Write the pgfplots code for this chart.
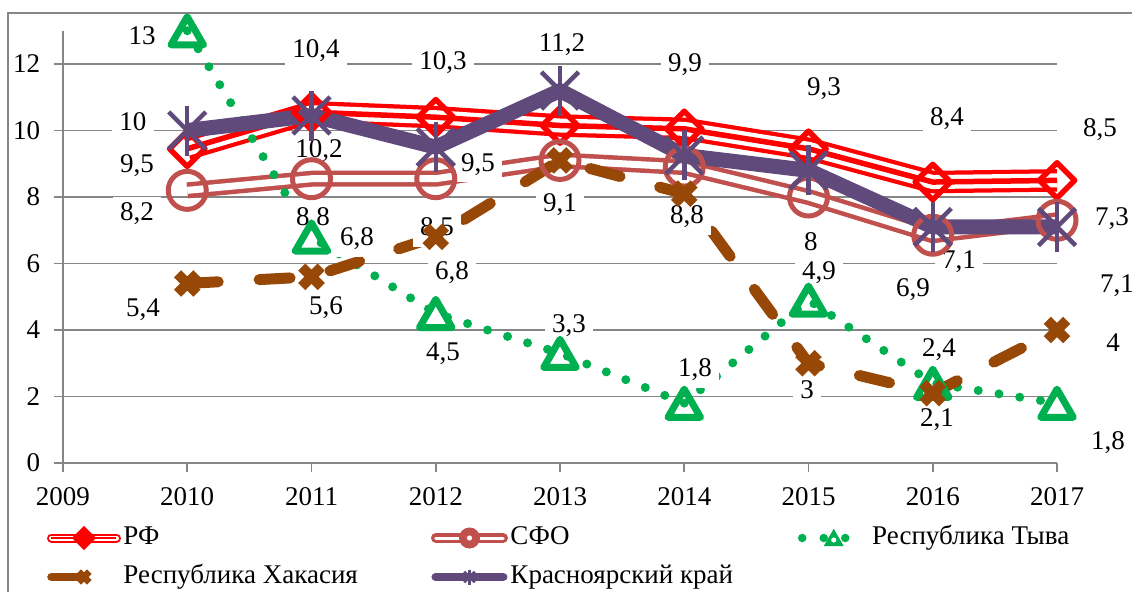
\documentclass[border=0pt]{standalone}
\usepackage{fontspec}
\setmainfont{Liberation Serif}
\usepackage{pgfplots}
\pgfplotsset{compat=1.18}
\usepackage{pgfplotstable}
\definecolor{rfred}{RGB}{255,0,0}
\definecolor{sfo}{RGB}{192,80,77}
\definecolor{tyva}{RGB}{0,176,80}
\definecolor{khak}{RGB}{151,71,6}
\definecolor{krsk}{RGB}{96,74,123}
\definecolor{gridc}{RGB}{134,134,134}
\newcommand{\chfont}{\rmfamily\fontsize{10.8pt}{13pt}\selectfont}

\pgfplotstableread{
year rf sfo tyva khak krsk
2010 9.45 8.2 13.0 5.4 10.0
2011 10.55 8.55 6.8 5.6 10.45
2012 10.4 8.55 4.5 6.8 9.5
2013 10.15 9.1 3.3 9.1 11.2
2014 10.05 8.9 1.8 8.1 9.25
2015 9.45 8.0 4.9 3.0 8.8
2016 8.45 6.85 2.4 2.1 7.1
2017 8.5 7.3 1.8 4.0 7.1
}\data

\begin{document}
\begin{tikzpicture}[font=\chfont,
  lbl/.style={fill=white, font=\chfont, inner xsep=3pt, inner ysep=2.5pt, text height=7.2pt, text depth=1.8pt, yshift=-0.9pt}]
\useasboundingbox (-25.2pt,-51.2pt) rectangle (427.6pt,185.2pt);
\draw[gridc, line width=0.5pt] (-22pt,-60pt) -- (-22pt,180pt) -- (440pt,180pt);
\begin{axis}[
  scale only axis, width=397.6pt, height=172.9pt,
  xmin=2009, xmax=2017, ymin=0, ymax=13,
  axis x line*=bottom, axis y line*=left,
  axis line style={gridc, line width=0.75pt},
  xtick={2009,2010,2011,2012,2013,2014,2015,2016,2017},
  xticklabels={2009,2010,2011,2012,2013,2014,2015,2016,2017},
  ytick={0,2,4,6,8,10,12},
  yticklabels={0,2,4,6,8,10,12},
  ymajorgrids, grid style={gridc, line width=0.75pt},
  tick align=outside, major tick length=3.5pt,
  tick style={gridc, line width=0.75pt},
  tick label style={font=\chfont},
  xticklabel style={yshift=-2.9pt},
  yticklabel style={xshift=-2.1pt},
  clip=false,
  legend columns=3,
  legend cell align=left,
  legend style={at={(axis description cs:0,0)}, anchor=north west,
    xshift=-6.4pt, yshift=-24.1pt, draw=none, fill=none, font=\chfont,
    inner sep=0pt, outer sep=0pt, row sep=3.8pt, /tikz/column sep=0pt,
    nodes={inner sep=1pt, text height=7.5pt, text depth=2.3pt, anchor=west, font=\chfont}},
]
% RF
\addplot[forget plot, rfred, line width=9pt, line join=round] table[x=year,y=rf]{\data};
\addplot[forget plot, white, line width=5.6pt, line join=round] table[x=year,y=rf]{\data};
\addplot[forget plot, rfred, line width=2.2pt, line join=round] table[x=year,y=rf]{\data};
\addplot[forget plot, only marks, mark=square, mark size=5pt,
  mark options={draw=rfred, fill=none, line width=2.2pt, rotate=45, line join=round}] table[x=year,y=rf]{\data};
% SFO
\addplot[forget plot, sfo, line width=1.8pt, double=white, double distance=2.8pt, line join=round] table[x=year,y=sfo]{\data};
\addplot[forget plot, only marks, mark=o, mark size=7.6pt,
  mark options={draw=sfo, fill=none, line width=2pt}] table[x=year,y=sfo]{\data};
% Tyva
\addplot[forget plot, tyva, line width=3.6pt, line cap=round, dash pattern=on 0pt off 8.4pt] table[x=year,y=tyva]{\data};
\addplot[forget plot, only marks, mark=triangle, mark size=7.5pt,
  mark options={draw=tyva, fill=none, line width=2.8pt, line join=round, yshift=-1.9pt, solid}] table[x=year,y=tyva]{\data};
% Khakasia
\addplot[forget plot, khak, line width=4.4pt, line cap=round, dash pattern=on 12.4pt off 16.4pt] table[x=year,y=khak]{\data};
\addplot[forget plot, only marks, mark=x, mark size=5.5pt,
  mark options={draw=khak, line width=4pt, solid}] table[x=year,y=khak]{\data};
% Krasnoyarsk
\addplot[forget plot, krsk, line width=6pt, line join=round] table[x=year,y=krsk]{\data};
\addplot[forget plot, only marks, mark=x, mark size=10.5pt,
  mark options={draw=krsk, line width=1.8pt}] table[x=year,y=krsk]{\data};
\addplot[forget plot, only marks, mark=|, mark size=10pt,
  mark options={draw=krsk, line width=1.8pt}] table[x=year,y=krsk]{\data};

% legend
\addlegendimage{legend image code/.code={
  \draw[rfred, line width=3.6pt, line cap=round] (0pt,0pt) -- (26pt,0pt);
  \draw[white, line width=2pt, line cap=round] (0pt,0pt) -- (26pt,0pt);
  \draw[rfred, line width=0.6pt] (0pt,0pt) -- (26pt,0pt);
  \draw[mark=square*, mark size=3.1pt, mark options={rotate=45, draw=rfred, fill=rfred, line width=0.6pt}] plot coordinates {(13pt,0pt)};
}}
\addlegendentry{\chfont\makebox[122pt][l]{РФ}}
\addlegendimage{legend image code/.code={
  \draw[sfo, line width=1.3pt, double=white, double distance=1.2pt, line cap=round] (0pt,0pt) -- (27pt,0pt);
  \draw[mark=*, mark size=4pt, mark options={draw=sfo, fill=sfo}] plot coordinates {(13.5pt,0pt)};
  \fill[white] (13.5pt,0pt) circle (0.8pt);
}}
\addlegendentry{\chfont\makebox[114pt][l]{СФО}}
\addlegendimage{legend image code/.code={
  \path[draw=none, fill=none] (0pt,0pt) -- (27pt,0pt);
  \draw[tyva, line width=3.4pt, line cap=round, dash pattern=on 0pt off 8.6pt] (0pt,0pt) -- (18pt,0pt);
  \draw[mark=triangle*, mark size=3.6pt, mark options={draw=tyva, fill=tyva, line width=1pt, yshift=-0.9pt}] plot coordinates {(12.6pt,0pt)};
  \fill[white] (12.6pt,-0.8pt) circle (0.8pt);
}}
\addlegendentry{\chfont Республика Тыва}
\addlegendimage{legend image code/.code={
  \draw[khak, line width=3.4pt, line cap=round] (0pt,0pt) -- (10pt,0pt);
  \draw[mark=x, mark size=3pt, mark options={draw=khak, line width=2.6pt}] plot coordinates {(13pt,0pt)};
}}
\addlegendentry{\chfont\makebox[122pt][l]{Республика Хакасия}}
\addlegendimage{legend image code/.code={
  \draw[krsk, line width=3.4pt, line cap=round] (0pt,0pt) -- (27pt,0pt);
  \draw[mark=x, mark size=3pt, mark options={draw=krsk, line width=1pt}] plot coordinates {(13.5pt,0pt)};
  \draw[mark=|, mark size=3pt, mark options={draw=krsk, line width=1pt}] plot coordinates {(13.5pt,0pt)};
}}
\addlegendentry{\chfont\makebox[114pt][l]{Красноярский край}}

% data labels: RF
\node[lbl] at (axis cs:2009.596,9.02) {9,5};
\node[lbl] at (axis cs:2011.036,12.48) {10,4};
\node[lbl] at (axis cs:2012.058,12.12) {10,3};
\node[lbl] at (axis cs:2014.006,12.06) {9,9};
\node[lbl] at (axis cs:2015.125,11.31) {9,3};
\node[lbl] at (axis cs:2016.115,10.41) {8,4};
\node[lbl] at (axis cs:2017.346,10.08) {8,5};
% SFO
\node[lbl] at (axis cs:2009.596,7.55) {8,2};
\node[lbl] at (axis cs:2011.012,7.40) {8,8};
\node[lbl] at (axis cs:2012.010,7.10) {8,5};
\node[lbl] at (axis cs:2013.0,7.82) {9,1};
\node[lbl] at (axis cs:2014.022,7.46) {8,8};
\node[lbl] at (axis cs:2015.020,6.65) {8};
\node[lbl] at (axis cs:2015.841,5.29) {6,9};
\node[lbl] at (axis cs:2017.443,7.40) {7,3};
% Tyva
\node[lbl] at (axis cs:2009.636,12.87) {13};
\node[lbl] at (axis cs:2011.366,6.80) {6,8};
\node[lbl] at (axis cs:2012.058,3.34) {4,5};
\node[lbl] at (axis cs:2013.072,4.21) {3,3};
\node[lbl] at (axis cs:2014.086,2.86) {1,8};
\node[lbl] at (axis cs:2015.085,5.80) {4,9};
\node[lbl] at (axis cs:2016.050,3.46) {2,4};
\node[lbl] at (axis cs:2017.410,0.69) {1,8};
% Khakasia
\node[lbl] at (axis cs:2009.644,4.69) {5,4};
\node[lbl] at (axis cs:2011.117,4.75) {5,6};
\node[lbl] at (axis cs:2012.131,5.80) {6,8};
\node[lbl] at (axis cs:2014.988,2.20) {3};
\node[lbl] at (axis cs:2016.034,1.38) {2,1};
\node[lbl] at (axis cs:2017.451,3.61) {4};
% Krasnoyarsk
\node[lbl] at (axis cs:2009.563,10.26) {10};
\node[lbl] at (axis cs:2011.060,9.47) {10,2};
\node[lbl] at (axis cs:2012.340,9.05) {9,5};
\node[lbl] at (axis cs:2013.016,12.66) {11,2};
\node[lbl] at (axis cs:2016.211,6.11) {7,1};
\node[lbl] at (axis cs:2017.483,5.41) {7,1};
\end{axis}
\end{tikzpicture}
\end{document}
